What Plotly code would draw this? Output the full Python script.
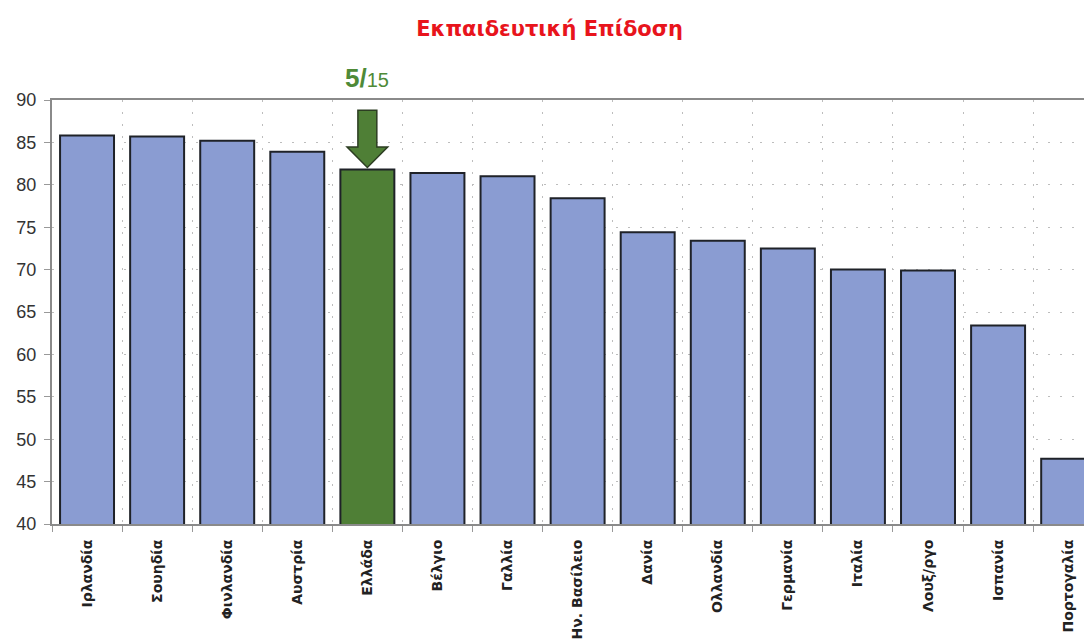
import plotly.graph_objects as go

categories = ["Ιρλανδία", "Σουηδία", "Φινλανδία", "Αυστρία", "Ελλάδα", "Βέλγιο", "Γαλλία",
              "Ην. Βασίλειο", "Δανία", "Ολλανδία", "Γερμανία", "Ιταλία", "Λουξ/ργο",
              "Ισπανία", "Πορτογαλία"]
values = [85.8, 85.7, 85.2, 83.9, 81.8, 81.4, 81.0, 78.4, 74.4, 73.4, 72.5, 70.0, 69.9, 63.4, 47.7]
highlight = "Ελλάδα"
rank_label = "5"
rank_total = "15"
y_ticks = [40, 45, 50, 55, 60, 65, 70, 75, 80, 85, 90]

BLUE = "#8A9CD2"
GREEN = "#4F7F36"
colors = [GREEN if c == highlight else BLUE for c in categories]

fig = go.Figure()
fig.add_trace(go.Bar(
    x=categories, y=values,
    marker=dict(color=colors, line=dict(color="#1f2228", width=2)),
    width=0.77,
))

# Block arrow over the highlighted bar
hi = categories.index(highlight)
top = values[hi]
tip = top + 0.25
shaft_top = 88.8
head_base = tip + 2.4
sw, hw = 0.135, 0.29
path = (f"M {hi - sw} {shaft_top} L {hi + sw} {shaft_top} L {hi + sw} {head_base} "
        f"L {hi + hw} {head_base} L {hi} {tip} L {hi - hw} {head_base} "
        f"L {hi - sw} {head_base} Z")
fig.add_shape(type="path", path=path, xref="x", yref="y",
              fillcolor=GREEN, line=dict(color="#2c3d22", width=1.5))

fig.add_annotation(
    x=hi, y=1.052, xref="x", yref="paper", showarrow=False,
    text=f"<b>{rank_label}/</b><span style='font-size:20px'>{rank_total}</span>",
    font=dict(family="Liberation Sans, Arial", size=26, color="#4E8A37"),
    yanchor="middle",
)

fig.update_layout(
    width=1092, height=642,
    margin=dict(l=42, r=8, t=92, b=126),
    paper_bgcolor="white", plot_bgcolor="white",
    showlegend=False,
    title=dict(text="<b>Εκπαιδευτική Επίδοση</b>", x=0.496, xanchor="center",
               y=0.968, yanchor="middle",
               font=dict(family="DejaVu Sans, Arial", size=21, color="#E8141C")),
    xaxis=dict(
        range=[-0.5, 14.34], tickson="boundaries", ticks="outside", ticklen=6,
        tickcolor="#999", showline=True, mirror=True, linecolor="#8a8a8a", linewidth=2,
        showgrid=True, gridcolor="#bdbdbd", griddash="2px,10px", gridwidth=1,
        tickangle=-90, ticklabelstandoff=8,
        tickfont=dict(family="DejaVu Sans", size=14, color="#222", weight="bold"),
        fixedrange=True,
    ),
    yaxis=dict(
        range=[40, 90], tickvals=y_ticks, ticks="outside", ticklen=6, tickcolor="#999",
        showline=True, linecolor="#8a8a8a", linewidth=2, ticklabelstandoff=4,
        showgrid=True, gridcolor="#bdbdbd", griddash="2px,10px", gridwidth=1,
        tickfont=dict(family="Liberation Sans, Arial", size=18, color="#333"),
        zeroline=False,
    ),
)

fig.write_html("out.html")
